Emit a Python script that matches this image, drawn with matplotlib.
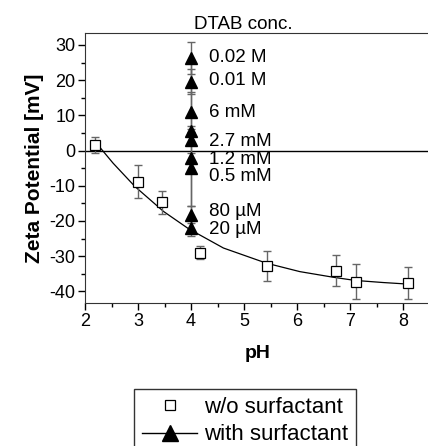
import matplotlib
matplotlib.use('Agg')
import matplotlib.pyplot as plt
from matplotlib.lines import Line2D
from matplotlib.ticker import MultipleLocator

plt.rcParams['font.family'] = ['Liberation Sans', 'DejaVu Sans']
plt.rcParams['axes.unicode_minus'] = False

# w/o surfactant (squares)
ph_plain = [2.19, 3.0, 3.46, 4.17, 5.44, 6.73, 7.10, 8.09]
zeta_plain = [1.6, -8.8, -14.7, -29.0, -32.8, -34.2, -37.3, -37.7]
err_plain = [2.3, 4.8, 3.2, 1.9, 4.3, 4.4, 5.0, 4.6]

# fitted trend line
fit_ph = [2.22, 2.53, 2.94, 3.48, 3.95, 4.61, 5.42, 6.05, 6.68, 7.09, 7.62, 8.15]
fit_zeta = [2.0, -3.6, -10.2, -17.3, -22.2, -27.7, -32.0, -34.4, -36.0, -36.9, -37.5, -38.0]

# with surfactant, all at pH 4 (DTAB series)
ph_surf = [4.0, 4.0, 4.0, 4.0, 4.0, 4.0, 4.0, 4.0, 4.0]
zeta_surf = [26.2, 19.6, 11.0, 5.6, 3.0, -2.1, -4.9, -18.3, -22.0]
err_surf = [4.5, 3.6, 5.6, 1.5, 1.5, 1.5, 11.0, 2.4, 2.4]

conc_labels = ['0.02 M', '0.01 M', '6 mM', '2.7 mM', '1.2 mM', '0.5 mM', '80 µM', '20 µM']
conc_label_y = [26.4, 19.8, 10.9, 2.6, -2.6, -7.4, -17.3, -22.5]

fig = plt.figure(figsize=(4.28, 4.46), dpi=100)
ax = fig.add_axes([85 / 428, 1 - 303.3 / 446, 344.8 / 428, 270.0 / 446])

err_col = '0.4'
ax.axhline(0, color='black', lw=1.0, zorder=1)
ax.plot(fit_ph, fit_zeta, color='black', lw=0.9, zorder=2)

ax.errorbar(ph_plain, zeta_plain, yerr=err_plain, fmt='none', ecolor=err_col,
            elinewidth=1.0, capsize=3, capthick=1.0, zorder=3)
ax.plot(ph_plain, zeta_plain, 's', ms=6.5, mfc='white', mec='black', mew=0.9, zorder=4)

ax.errorbar(ph_surf, zeta_surf, yerr=err_surf, fmt='none', ecolor=err_col,
            elinewidth=1.0, capsize=3, capthick=1.0, zorder=3)
ax.plot(ph_surf, zeta_surf, '-^', color=err_col, lw=1.0, ms=9, mfc='black', mec='black', zorder=4)

for lab, yv in zip(conc_labels, conc_label_y):
    ax.text(4.33, yv, lab, ha='left', va='center', fontsize=13.5)

ax.set_xlim(2, 8.5)
ax.set_ylim(-43.4, 33.3)
ax.xaxis.set_major_locator(MultipleLocator(1))
ax.xaxis.set_minor_locator(MultipleLocator(0.5))
ax.yaxis.set_major_locator(MultipleLocator(10))
ax.yaxis.set_minor_locator(MultipleLocator(5))
ax.tick_params(which='both', direction='out', labelsize=13)
ax.tick_params(which='major', length=5, width=1, pad=2)
ax.tick_params(which='minor', length=3, width=1)
ax.spines['right'].set_visible(False)
for s in ['left', 'top', 'bottom']:
    ax.spines[s].set_color('0.2')

ax.set_title('DTAB conc.', fontsize=13.5, pad=2, x=0.458)
ax.set_xlabel('pH', fontsize=14, fontweight='bold', labelpad=11)
ax.set_ylabel('Zeta Potential [mV]', fontsize=15, fontweight='bold', labelpad=4)

handles = [
    Line2D([], [], ls='none', marker='s', ms=6.5, mfc='white', mec='black', mew=0.9),
    Line2D([], [], ls='-', color='black', lw=1.0, marker='^', ms=11, mfc='black', mec='black'),
]
leg = fig.legend(handles, ['w/o surfactant', 'with surfactant'],
                 loc='upper left', bbox_to_anchor=(134 / 428, 1 - 389 / 446),
                 borderaxespad=0, fontsize=16, frameon=True, fancybox=False,
                 edgecolor='black', handlelength=2.5, handletextpad=0.3,
                 labelspacing=0.3, borderpad=0.35)
leg.get_frame().set_linewidth(1.0)

fig.savefig('out.png', dpi=100)
